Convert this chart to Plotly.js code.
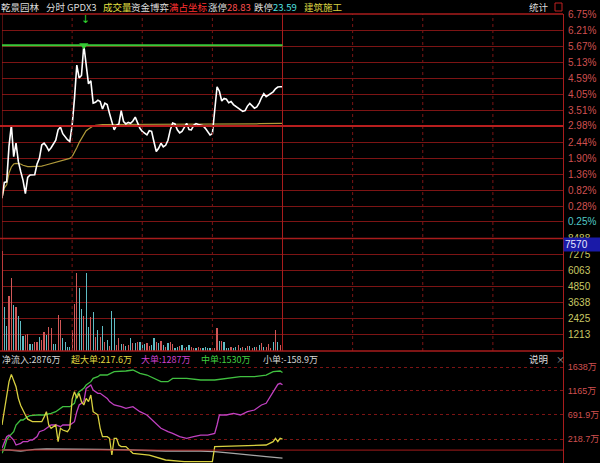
<!DOCTYPE html>
<html>
<head>
<meta charset="utf-8">
<script src="https://cdn.plot.ly/plotly-3.0.1.min.js"></script>
<style>html,body{margin:0;padding:0;background:#000;}#chart{width:600px;height:463px;}</style>
</head>
<body>
<div id="chart"></div>
<script>
// ---------- DATA ----------
// intraday % change (morning session, one value per minute 09:30-11:30)
const pricePct = [0.55,1.08,1.10,2.30,3.01,1.95,2.40,1.78,1.45,1.15,0.70,1.25,1.33,1.33,1.34,1.70,1.89,2.34,2.40,2.30,
2.15,2.25,2.40,2.50,2.85,2.95,2.72,2.62,2.52,2.46,3.00,3.90,5.03,4.60,4.68,5.70,5.03,4.40,4.50,3.75,
3.78,3.85,3.80,3.55,3.75,3.70,3.40,3.13,2.85,3.00,3.05,3.50,3.13,3.05,3.10,3.07,3.15,3.28,3.10,2.90,
2.80,2.73,2.68,2.82,2.80,2.45,2.12,2.23,2.40,2.28,2.33,2.50,2.85,3.08,3.05,2.85,2.75,2.80,2.95,3.07,
2.86,2.85,3.00,3.06,3.03,3.00,2.99,2.90,2.77,2.68,2.72,3.40,4.30,4.15,3.82,3.91,3.88,3.76,3.80,3.70,
3.64,3.60,3.54,3.47,3.50,3.65,3.74,3.64,3.58,3.62,3.75,3.93,4.07,3.97,4.03,4.07,4.13,4.23,4.29,4.30,4.30];
const avgPct = [0.55,0.90,1.00,1.40,1.60,1.70,1.72,1.72,1.70,1.66,1.63,1.61,1.61,1.61,1.61,1.61,1.62,1.63,1.65,1.67,
1.69,1.71,1.73,1.75,1.78,1.81,1.83,1.85,1.87,1.89,1.95,2.08,2.25,2.42,2.55,2.70,2.82,2.88,2.94,2.98,
3.00,3.02,3.02,3.03,3.03,3.04,3.04,3.04,3.04,3.04,3.04,3.04,3.04,3.04,3.04,3.04,3.04,3.04,3.04,3.04,
3.03,3.03,3.03,3.03,3.03,3.03,3.03,3.03,3.03,3.03,3.03,3.03,3.03,3.03,3.03,3.03,3.03,3.03,3.03,3.03,
3.03,3.03,3.03,3.03,3.03,3.03,3.03,3.03,3.03,3.03,3.04,3.04,3.04,3.04,3.04,3.04,3.04,3.04,3.04,3.04,
3.04,3.04,3.04,3.04,3.04,3.05,3.05,3.05,3.05,3.05,3.06,3.06,3.06,3.06,3.06,3.06,3.06,3.06,3.07,3.07,3.07];
const volume = [7570,3285,1895,4119,5509,3487,3285,2653,2300,1162,1213,1263,530,530,707,657,1086,834,1465,1213,
1845,1718,530,530,2729,2350,960,657,278,278,1592,3538,5888,4751,3159,2678,5888,1845,2603,2931,
1086,1592,1086,1920,657,834,404,2982,2476,455,1011,505,505,404,455,960,581,581,707,707,
455,505,631,404,455,960,657,581,758,455,328,581,707,505,253,328,404,455,202,328,
455,328,253,202,328,253,253,303,253,202,253,253,1769,758,758,657,202,253,328,253,
328,455,253,303,253,404,404,253,303,328,455,581,328,328,505,253,657,1592,707,455,328];
const volDir = [1,-1,-1,1,1,-1,1,-1,-1,-1,1,1,-1,-1,1,1,-1,1,1,-1,
1,1,-1,-1,1,1,-1,-1,-1,-1,1,1,1,-1,-1,1,-1,-1,1,-1,
1,-1,1,-1,1,-1,1,-1,-1,1,1,-1,1,-1,1,-1,1,-1,1,-1,
-1,-1,1,1,-1,-1,1,-1,1,-1,1,-1,1,1,-1,-1,1,-1,1,-1,
-1,1,1,-1,1,1,-1,-1,-1,-1,1,1,1,-1,1,-1,-1,-1,1,-1,
-1,1,-1,1,-1,1,-1,1,-1,1,-1,1,-1,1,1,1,-1,1,-1,1,1];
// fund flow (万), sampled minutes
const superT = [0,1,2,3,4,6,7,8,10,11,13,15,17,18,19,20,21,23,24,25,26,28,29,30,31,32,33,34,35,36,37,38,39,41,42,43,45,46,47,48,49,50,51,53,55,56,63,70,78,90,91,99,108,113,116,117,118,119,120];
const superV = [495,757,1086,1350,1493,1250,1020,880,692,610,560,560,560,650,757,495,429,495,166,429,396,363,429,1000,1152,1020,1119,955,889,1020,955,1086,757,692,429,265,265,232,-97,232,232,100,68,68,-31,-64,-97,-195,-228,-228,68,81,87,100,166,232,166,232,217.6];
const largeT = [0,1,2,3,5,6,8,9,11,12,13,15,16,18,19,21,23,25,26,29,31,32,33,35,36,38,39,41,42,43,45,46,48,51,53,56,58,59,62,65,68,71,73,76,79,82,85,88,91,92,93,96,99,102,105,108,111,113,116,118,119,120];
const largeV = [35,166,265,297,199,100,133,166,166,199,199,265,363,396,429,495,495,462,495,495,560,757,889,955,1217,1283,1184,1119,1119,1086,1020,955,889,856,823,856,790,757,692,560,429,363,330,265,232,265,297,297,330,495,692,692,725,692,757,790,889,922,1152,1296,1316,1287];
const mediumT = [0,1,2,3,5,6,8,9,11,12,15,18,21,23,26,29,31,32,33,35,36,38,39,41,42,45,48,51,53,56,59,62,65,68,71,73,79,85,91,96,102,108,113,116,119,120];
const mediumV = [-64,35,199,265,363,495,593,593,659,679,692,692,725,757,856,856,922,1086,1152,1217,1283,1349,1414,1447,1480,1480,1546,1546,1559,1579,1513,1480,1414,1349,1349,1414,1414,1382,1382,1414,1447,1447,1480,1546,1559,1530];
const smallT = [0,3,8,14,19,28,42,56,70,85,91,99,108,113,120];
const smallV = [2,2,-18,15,22,22,15,2,-18,-18,-31,-64,-97,-130,-158.9];
// axis tick labels
const priceTicks = [6.75,6.21,5.67,5.13,4.59,4.05,3.51,2.98,2.44,1.90,1.36,0.82,0.28,-0.25];
const priceTickText = ['6.75%','6.21%','5.67%','5.13%','4.59%','4.05%','3.51%','2.98%','2.44%','1.90%','1.36%','0.82%','0.28%','0.25%'];
const volTicks = [1213,2425,3638,4850,6063,7275,8488];
const flowTicks = [218.7,691.9,1165,1638];
const flowTickText = ['218.7万','691.9万','1165万','1638万'];
const headerItems = [['乾景园林','#dcdcdc'],['分时','#dcdcdc'],['GPDX3','#dcdcdc'],['成交量','#e6e040'],['资金博弈','#dcdcdc'],['满占坐标','#ff3030'],['涨停','#dcdcdc'],['28.83','#ff5050'],['跌停','#dcdcdc'],['23.59','#50e0e0'],['建筑施工','#d8d040']];
const flowHeader = [['净流入:2876万','#d8d8d8'],['超大单:217.6万','#e0d840'],['大单:1287万','#d040d0'],['中单:1530万','#40d040'],['小单:-158.9万','#d8d8d8']];
const cursorVol = '7570';

// ---------- LAYOUT HELPERS ----------
const W=600,H=463,L=2,R=37,T=14,B=0;
const PW=W-L-R, PH=H-T-B;
const px=X=>(X-L)/PW, py=Y=>(H-B-Y)/PH;
const minutes = pricePct.map((_,i)=>i);
const GRID='#7c1414', BORDER='#a81c1c';
const CJK='"Noto Sans CJK SC", "Noto Sans", sans-serif';
const NUM='"Liberation Sans", "Noto Sans CJK SC", sans-serif';

const peak = Math.max(...pricePct), peakIdx = pricePct.indexOf(peak);

const traces = [
 {x:minutes,y:avgPct,type:'scatter',mode:'lines',line:{color:'#b09a3a',width:1.2},xaxis:'x',yaxis:'y',hoverinfo:'skip'},
 {x:minutes,y:pricePct,type:'scatter',mode:'lines',line:{color:'#ffffff',width:1.6},xaxis:'x',yaxis:'y',hoverinfo:'skip'},
 {x:[peakIdx],y:[peak],type:'scatter',mode:'markers',marker:{symbol:'triangle-down',size:8,color:'#30d030'},xaxis:'x',yaxis:'y',hoverinfo:'skip'},
 {x:minutes,y:volume,type:'bar',width:0.5,marker:{color:volDir.map(d=>d>0?'#d05858':'#5fbcc4'),line:{width:0}},xaxis:'x',yaxis:'y2',hoverinfo:'skip'},
 {x:smallT,y:smallV,type:'scatter',mode:'lines',line:{color:'#a8a8a8',width:1.3},xaxis:'x',yaxis:'y3'},
 {x:mediumT,y:mediumV,type:'scatter',mode:'lines',line:{color:'#40c040',width:1.3},xaxis:'x',yaxis:'y3'},
 {x:largeT,y:largeV,type:'scatter',mode:'lines',line:{color:'#c040c0',width:1.3},xaxis:'x',yaxis:'y3'},
 {x:superT,y:superV,type:'scatter',mode:'lines',line:{color:'#d8d040',width:1.3},xaxis:'x',yaxis:'y3'}
];

const dPrice=[py(238.5),1], dVol=[py(351),py(238.5)], dFlow=[0,py(351)];
const pStep=0.5386/16;
const shapes=[];
[30,60,90,150,180,210].forEach(m=>shapes.push({type:'line',xref:'x',yref:'paper',x0:m,x1:m,y0:dVol[0],y1:1,line:{color:GRID,width:1,dash:'dot'}}));
[0,120].forEach(m=>shapes.push({type:'line',xref:'x',yref:'paper',x0:m,x1:m,y0:dVol[0],y1:1,line:{color:BORDER,width:1}}));
shapes.push({type:'line',xref:'paper',yref:'paper',x0:px(0),x1:1,y0:1,y1:1,line:{color:BORDER,width:1.5}});
shapes.push({type:'line',xref:'paper',yref:'paper',x0:px(0),x1:1,y0:dPrice[0],y1:dPrice[0],line:{color:BORDER,width:1.5}});
shapes.push({type:'line',xref:'paper',yref:'paper',x0:px(0),x1:1,y0:dVol[0],y1:dVol[0],line:{color:BORDER,width:1.5}});
shapes.push({type:'line',xref:'paper',yref:'y',x0:px(0),x1:1,y0:2.98,y1:2.98,line:{color:'#b81e1e',width:2}});
shapes.push({type:'line',xref:'paper',yref:'y3',x0:px(0),x1:1,y0:0,y1:0,line:{color:BORDER,width:1}});
shapes.push({type:'line',xref:'x',yref:'y',x0:0,x1:120,y0:peak,y1:peak,line:{color:'#38c838',width:2}});
shapes.push({type:'rect',xref:'paper',yref:'paper',x0:px(555),x1:px(562),y0:py(11),y1:py(3),line:{color:'#c02020',width:1}});

const ann=[];
const hx=[0,45,66,102,130,168,207,226,253,272,303];
headerItems.forEach((h,i)=>ann.push({text:h[0],x:px(hx[i]),y:py(7),xref:'paper',yref:'paper',xanchor:'left',yanchor:'middle',showarrow:false,borderpad:0,font:{family:CJK,size:9.5,color:h[1]}}));
ann.push({text:'统计',x:px(528),y:py(7),xref:'paper',yref:'paper',xanchor:'left',yanchor:'middle',showarrow:false,borderpad:0,font:{family:CJK,size:9.5,color:'#dcdcdc'}});
const fx=[1,70,140,200,262];
flowHeader.forEach((h,i)=>ann.push({text:h[0],x:px(fx[i]),y:py(359),xref:'paper',yref:'paper',xanchor:'left',yanchor:'middle',showarrow:false,borderpad:0,font:{family:CJK,size:9,color:h[1]}}));
ann.push({text:'说明',x:px(528),y:py(359),xref:'paper',yref:'paper',xanchor:'left',yanchor:'middle',showarrow:false,borderpad:0,font:{family:CJK,size:9.5,color:'#dcdcdc'}});
ann.push({text:'×',x:px(555),y:py(359),xref:'paper',yref:'paper',xanchor:'left',yanchor:'middle',showarrow:false,borderpad:0,font:{family:CJK,size:9,color:'#a0a0a0'}});
ann.push({text:'↓',x:peakIdx+0.8,y:py(20),xref:'x',yref:'paper',xanchor:'center',yanchor:'middle',showarrow:false,borderpad:0,font:{family:'DejaVu Sans',size:11,color:'#30d030'}});
ann.push({text:cursorVol,x:px(563),y:py(245),xref:'paper',yref:'paper',xanchor:'left',yanchor:'middle',showarrow:false,width:35,align:'left',bgcolor:'#1a1aa8',borderpad:1,font:{family:NUM,size:10,color:'#e8e8ff'}});

const yCommon={side:'right',anchor:'x',ticks:'',ticklabelstandoff:2,showline:true,linecolor:BORDER,linewidth:1,zeroline:false,fixedrange:true};
const layout={
 width:W,height:H,margin:{l:L,r:R,t:T,b:B,pad:0},
 paper_bgcolor:'#000',plot_bgcolor:'#000',showlegend:false,bargap:0,
 xaxis:{range:[0,240],showgrid:false,zeroline:false,showticklabels:false,ticks:'',showline:false,fixedrange:true},
 yaxis:Object.assign({},yCommon,{domain:dPrice,range:[6.75-224.5*pStep,6.75],tickvals:priceTicks,
   ticktext:priceTickText.map((t,i)=>priceTicks[i]<0?'<span style="color:#50c8c8">'+t+'</span>':t),
   tickfont:{family:NUM,size:10,color:'#d05050'},showgrid:true,gridcolor:GRID,gridwidth:1}),
 yaxis2:Object.assign({},yCommon,{domain:dVol,range:[0,8488],tickvals:volTicks,ticktext:volTicks.map(String),
   tickfont:{family:NUM,size:10,color:'#c8c864'},showgrid:true,gridcolor:GRID,gridwidth:1}),
 yaxis3:Object.assign({},yCommon,{domain:dFlow,range:[218.7-473.1,218.7+88*473.1/24],tickvals:flowTicks,ticktext:flowTickText,
   tickfont:{family:NUM,size:9,color:'#d05050'},showgrid:true,gridcolor:GRID,gridwidth:1,griddash:'dot'}),
 shapes:shapes,annotations:ann
};
Plotly.newPlot('chart',traces,layout,{staticPlot:true,displayModeBar:false});
</script>
</body>
</html>
